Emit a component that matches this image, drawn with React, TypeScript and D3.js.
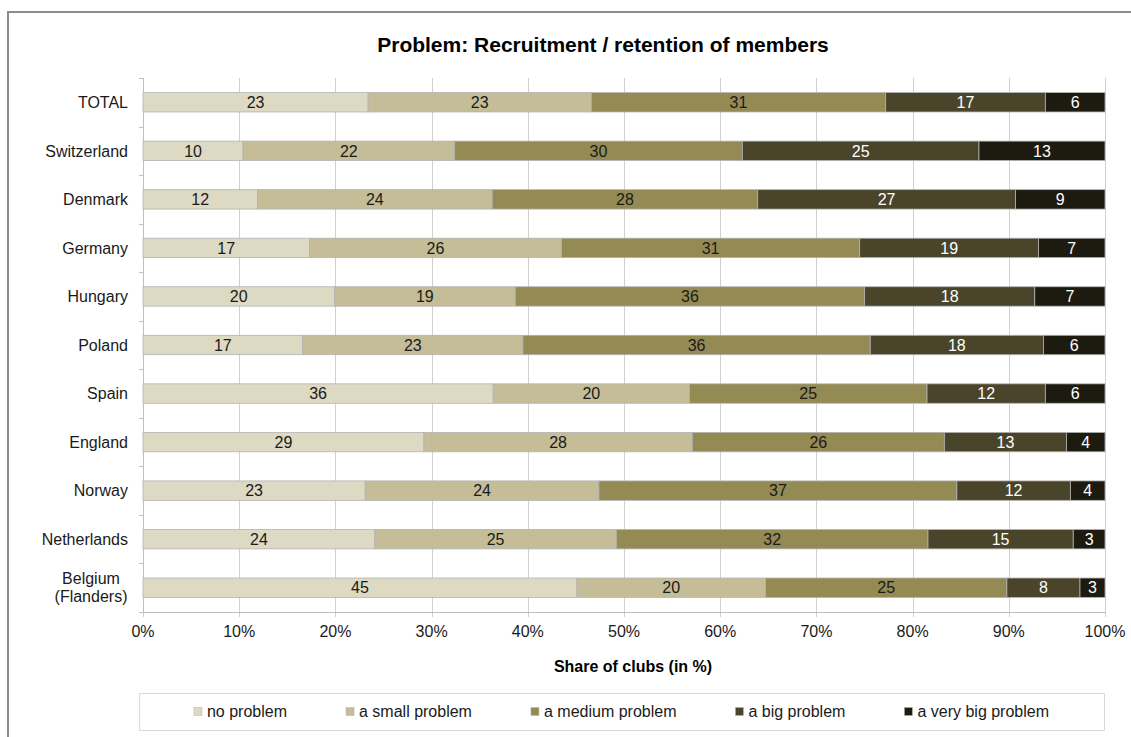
import React, { useEffect, useRef } from "react";
import * as d3 from "d3";

const categories = [
  "TOTAL",
  "Switzerland",
  "Denmark",
  "Germany",
  "Hungary",
  "Poland",
  "Spain",
  "England",
  "Norway",
  "Netherlands",
  "Belgium\n(Flanders)",
];

const seriesNames = [
  "no problem",
  "a small problem",
  "a medium problem",
  "a big problem",
  "a very big problem",
];

const noProblem = [23.4, 10.4, 11.9, 17.3, 19.9, 16.6, 36.4, 29.2, 23.1, 24.1, 45.1];
const smallProblem = [23.2, 22.0, 24.4, 26.2, 18.8, 22.9, 20.4, 27.9, 24.3, 25.1, 19.6];
const mediumProblem = [30.6, 29.9, 27.6, 31.0, 36.3, 36.1, 24.7, 26.2, 37.2, 32.4, 25.1];
const bigProblem = [16.6, 24.6, 26.8, 18.6, 17.7, 18.0, 12.3, 12.7, 11.8, 15.1, 7.6];
const veryBigProblem = [6.2, 13.1, 9.3, 6.9, 7.3, 6.4, 6.2, 4.0, 3.6, 3.3, 2.6];

const xTicks = [0, 0.1, 0.2, 0.3, 0.4, 0.5, 0.6, 0.7, 0.8, 0.9, 1.0];

const title = "Problem: Recruitment / retention of members";
const xAxisTitle = "Share of clubs (in %)";

const colors = ["#ddd9c3", "#c4bd97", "#948a54", "#4a452a", "#1d1b10"];
const labelColors = ["#1a1a1a", "#1a1a1a", "#1a1a1a", "#ffffff", "#ffffff"];

const FONT = "'Liberation Sans', Arial, sans-serif";

export default function App() {
  const ref = useRef<SVGSVGElement | null>(null);

  useEffect(() => {
    const svg = d3.select(ref.current);
    svg.selectAll("*").remove();

    const W = 1131;
    const H = 737;
    const left = 143;
    const right = 1105;
    const top = 78;
    const bottom = 612;

    const seriesValues = [noProblem, smallProblem, mediumProblem, bigProblem, veryBigProblem];
    const rows = categories.map((c, i) => {
      const r: any = { category: c };
      seriesNames.forEach((s, j) => (r[s] = seriesValues[j][i]));
      return r;
    });

    const stacked = d3.stack<any>().keys(seriesNames).offset(d3.stackOffsetExpand)(rows);

    const x = d3.scaleLinear().domain([0, 1]).range([left, right]);
    const y = d3
      .scaleBand<string>()
      .domain(categories)
      .range([top, bottom])
      .paddingInner(0.6)
      .paddingOuter(0.3);

    // frame
    svg
      .append("rect")
      .attr("x", 8)
      .attr("y", 12)
      .attr("width", W + 10)
      .attr("height", H + 10)
      .attr("fill", "white")
      .attr("stroke", "#8c8c8c")
      .attr("stroke-width", 2);

    // title
    svg
      .append("text")
      .attr("x", 603)
      .attr("y", 52)
      .attr("text-anchor", "middle")
      .attr("font-family", FONT)
      .attr("font-weight", "bold")
      .attr("font-size", 21)
      .attr("fill", "#000")
      .text(title);

    // gridlines
    const grid = svg.append("g");
    grid
      .selectAll("line.grid")
      .data(xTicks)
      .join("line")
      .attr("x1", (d) => Math.round(x(d)) + 0.5)
      .attr("x2", (d) => Math.round(x(d)) + 0.5)
      .attr("y1", top)
      .attr("y2", bottom + 5)
      .attr("stroke", "#d0d0d0")
      .attr("stroke-width", 1);

    // left axis
    const step = y.step();
    const boundaries = d3.range(categories.length + 1).map((i) => top + i * step);
    grid
      .append("line")
      .attr("x1", left + 0.5)
      .attr("x2", left + 0.5)
      .attr("y1", top)
      .attr("y2", bottom)
      .attr("stroke", "#bfbfbf");
    grid
      .selectAll("line.ytick")
      .data(boundaries)
      .join("line")
      .attr("class", "ytick")
      .attr("x1", left - 4)
      .attr("x2", left)
      .attr("y1", (d) => Math.round(d) + 0.5)
      .attr("y2", (d) => Math.round(d) + 0.5)
      .attr("stroke", "#bfbfbf");
    // bottom axis
    grid
      .append("line")
      .attr("x1", left)
      .attr("x2", right + 1)
      .attr("y1", bottom + 0.5)
      .attr("y2", bottom + 0.5)
      .attr("stroke", "#bfbfbf");

    // bars
    const barG = svg.append("g");
    stacked.forEach((layer, j) => {
      const g = barG.append("g");
      g.selectAll("rect")
        .data(layer)
        .join("rect")
        .attr("x", (d) => x(d[0]))
        .attr("y", (d) => y(d.data.category)!)
        .attr("width", (d) => x(d[1]) - x(d[0]))
        .attr("height", y.bandwidth())
        .attr("fill", colors[j])
        .attr("stroke", "#b3b3b3")
        .attr("stroke-width", 0.8);
    });
    stacked.forEach((layer, j) => {
      const g = barG.append("g");
      g.selectAll("text")
        .data(layer)
        .join("text")
        .attr("x", (d) => (x(d[0]) + x(d[1])) / 2)
        .attr("y", (d) => y(d.data.category)! + y.bandwidth() / 2)
        .attr("dy", "0.36em")
        .attr("text-anchor", "middle")
        .attr("font-family", FONT)
        .attr("font-size", 16)
        .attr("fill", labelColors[j])
        .text((d) => String(Math.round(d.data[seriesNames[j]])));
    });

    // category labels
    const catG = svg.append("g");
    categories.forEach((c) => {
      const lines = c.split("\n");
      const cy = y(c)! + y.bandwidth() / 2;
      const lh = 18;
      const t = catG
        .append("text")
        .attr("font-family", FONT)
        .attr("font-size", 16)
        .attr("fill", "#1a1a1a");
      if (lines.length === 1) {
        t.attr("x", left - 15)
          .attr("y", cy)
          .attr("dy", "0.36em")
          .attr("text-anchor", "end")
          .text(c);
      } else {
        t.attr("text-anchor", "middle");
        lines.forEach((ln, k) => {
          t.append("tspan")
            .attr("x", 91)
            .attr("y", cy + (k - (lines.length - 1) / 2) * lh)
            .attr("dy", "0.36em")
            .text(ln);
        });
      }
    });

    // x tick labels
    svg
      .append("g")
      .selectAll("text")
      .data(xTicks)
      .join("text")
      .attr("x", (d) => x(d))
      .attr("y", 637)
      .attr("text-anchor", "middle")
      .attr("font-family", FONT)
      .attr("font-size", 16)
      .attr("fill", "#1a1a1a")
      .text((d) => d3.format(".0%")(d));

    // x axis title
    svg
      .append("text")
      .attr("x", 633)
      .attr("y", 672)
      .attr("text-anchor", "middle")
      .attr("font-family", FONT)
      .attr("font-weight", "bold")
      .attr("font-size", 16)
      .attr("fill", "#000")
      .text(xAxisTitle);

    // legend
    const lg = svg.append("g");
    const boxX = 139;
    const boxY = 693;
    const boxW = 965;
    const boxH = 37;
    lg.append("rect")
      .attr("x", boxX + 0.5)
      .attr("y", boxY + 0.5)
      .attr("width", boxW)
      .attr("height", boxH)
      .attr("fill", "white")
      .attr("stroke", "#d9d9d9");
    const items = seriesNames.map((s, j) => {
      const g = lg.append("g");
      g.append("rect")
        .attr("width", 8)
        .attr("height", 8)
        .attr("y", boxY + boxH / 2 - 4)
        .attr("fill", colors[j])
        .attr("stroke", "#b3b3b3")
        .attr("stroke-width", 0.5);
      const t = g
        .append("text")
        .attr("x", 13)
        .attr("y", boxY + boxH / 2)
        .attr("dy", "0.36em")
        .attr("font-family", FONT)
        .attr("font-size", 16)
        .attr("fill", "#1a1a1a")
        .text(s);
      const w = 13 + ((t.node() as SVGTextElement).getComputedTextLength?.() || s.length * 8);
      return { g, w };
    });
    const gap = 59;
    const total = d3.sum(items, (d) => d.w) + gap * (items.length - 1);
    let cx = boxX + boxW / 2 - total / 2;
    items.forEach((it) => {
      it.g.attr("transform", `translate(${cx},0)`);
      cx += it.w + gap;
    });
  }, []);

  return (
    <svg
      ref={ref}
      width={1131}
      height={737}
      style={{ position: "absolute", left: 0, top: 0, background: "white" }}
    />
  );
}
